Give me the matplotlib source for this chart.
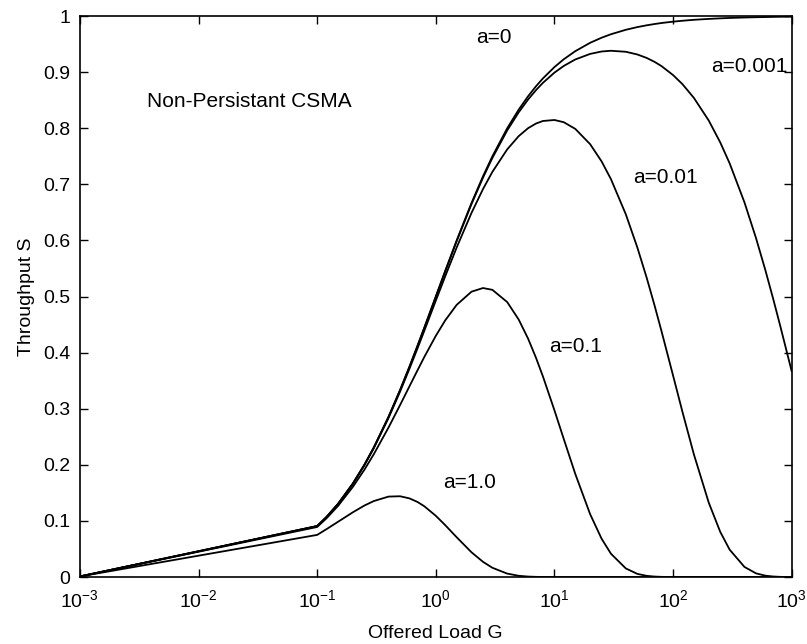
import numpy as np
import matplotlib.pyplot as plt

plt.rcParams['font.family'] = ['Liberation Sans', 'DejaVu Sans']

# offered load G and throughput S
G = [0.001, 0.1, 0.12, 0.15, 0.2, 0.25, 0.3, 0.4, 0.5, 0.6, 0.7, 0.8, 1, 1.2, 1.5, 2,
     2.5, 3, 4, 5, 6, 7, 8, 10, 12, 15, 20, 25, 30, 40, 50, 60, 70, 80, 100, 120,
     150, 200, 250, 300, 400, 500, 600, 700, 800, 1000]

s_a0 = [0.001, 0.0909, 0.1071, 0.1304, 0.1667, 0.2, 0.2308, 0.2857, 0.3333, 0.375,
        0.4118, 0.4444, 0.5, 0.5455, 0.6, 0.6667, 0.7143, 0.75, 0.8, 0.8333,
        0.8571, 0.875, 0.8889, 0.9091, 0.9231, 0.9375, 0.9524, 0.9615, 0.9677, 0.9756,
        0.9804, 0.9836, 0.9859, 0.9877, 0.9901, 0.9917, 0.9934, 0.995, 0.996, 0.9967,
        0.9975, 0.998, 0.9983, 0.9986, 0.9988, 0.999]
s_a0001 = [0.001, 0.0909, 0.1071, 0.1304, 0.1666, 0.1999, 0.2306, 0.2855, 0.3331, 0.3746,
           0.4113, 0.4439, 0.4993, 0.5445, 0.5988, 0.6649, 0.712, 0.7472, 0.7962, 0.8285,
           0.8513, 0.8681, 0.881, 0.8992, 0.9112, 0.9227, 0.9326, 0.9369, 0.9382, 0.9364,
           0.9316, 0.9254, 0.9183, 0.9108, 0.8949, 0.8787, 0.8541, 0.8138, 0.7748, 0.7375,
           0.6679, 0.6046, 0.5472, 0.4952, 0.4482, 0.367]
s_a001 = [0.001, 0.0907, 0.1069, 0.1301, 0.1661, 0.1991, 0.2295, 0.2838, 0.3306, 0.3714,
          0.4072, 0.4389, 0.4926, 0.536, 0.5875, 0.6491, 0.6916, 0.7223, 0.7624, 0.786,
          0.8002, 0.8085, 0.813, 0.8148, 0.8108, 0.7989, 0.7717, 0.7409, 0.7091, 0.6466,
          0.5876, 0.5333, 0.4835, 0.4381, 0.3594, 0.2946, 0.2184, 0.1326, 0.0805, 0.0488,
          0.018, 0.0066, 0.0024, 0.0009, 0.0003, 0.0]
s_a01 = [0.001, 0.0892, 0.1047, 0.1268, 0.1607, 0.1912, 0.2188, 0.2667, 0.3066, 0.34,
         0.3682, 0.3922, 0.4299, 0.4574, 0.4852, 0.5087, 0.5152, 0.512, 0.4902, 0.459,
         0.425, 0.3907, 0.3577, 0.2974, 0.2459, 0.1837, 0.1121, 0.0682, 0.0414, 0.0153,
         0.0056, 0.0021, 0.0008, 0.0003, 0.0, 0.0, 0.0, 0.0, 0.0, 0.0,
         0.0, 0.0, 0.0, 0.0, 0.0, 0.0]
s_a1 = [0.001, 0.0751, 0.0854, 0.0985, 0.1154, 0.1274, 0.1354, 0.1434, 0.144, 0.1402,
        0.1339, 0.1262, 0.1092, 0.0926, 0.0709, 0.0441, 0.0271, 0.0165, 0.0061, 0.0022,
        0.0008, 0.0003, 0.0001, 0.0, 0.0, 0.0, 0.0, 0.0, 0.0, 0.0,
        0.0, 0.0, 0.0, 0.0, 0.0, 0.0, 0.0, 0.0, 0.0, 0.0,
        0.0, 0.0, 0.0, 0.0, 0.0, 0.0]

fig = plt.figure(figsize=(8.07, 6.44), dpi=100)
ax = fig.add_axes([0.099, 0.104, 0.882, 0.871])

for s in [s_a0, s_a0001, s_a001, s_a01, s_a1]:
    ax.plot(G, s, color='black', lw=1.3)

ax.set_xscale('log')
ax.set_xlim(1e-3, 1e3)
ax.set_ylim(0, 1)
ax.set_xticks([1e-3, 1e-2, 1e-1, 1e0, 1e1, 1e2, 1e3])
ax.set_yticks(np.arange(0, 1.01, 0.1))
ax.set_yticklabels(['0', '0.1', '0.2', '0.3', '0.4', '0.5', '0.6', '0.7', '0.8', '0.9', '1'])
ax.minorticks_off()
ax.tick_params(direction='in', top=True, right=True, length=6, width=1, labelsize=14)
ax.tick_params(axis='x', pad=9)
ax.tick_params(axis='y', pad=7)
for sp in ax.spines.values():
    sp.set_linewidth(1.2)

ax.set_xlabel('Offered Load G', fontsize=14, labelpad=10)
ax.set_ylabel('Throughput S', fontsize=14, labelpad=6)

ax.text(0.00366, 0.838, 'Non-Persistant CSMA', fontsize=15)
ax.text(2.2, 0.952, 'a=0', fontsize=15)
ax.text(211, 0.9, 'a=0.001', fontsize=15)
ax.text(45.7, 0.702, 'a=0.01', fontsize=15)
ax.text(9.1, 0.401, 'a=0.1', fontsize=15)
ax.text(1.15, 0.159, 'a=1.0', fontsize=15)

fig.savefig('out.png', dpi=100)
